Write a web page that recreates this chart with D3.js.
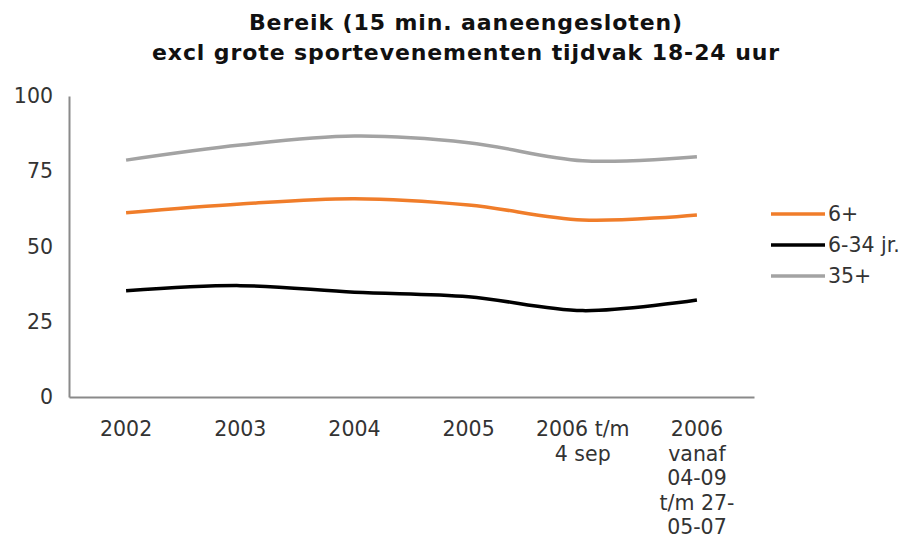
<!DOCTYPE html>
<html><head><meta charset="utf-8">
<script src="https://cdn.jsdelivr.net/npm/d3@7"></script>
<style>body{margin:0;background:#fff}svg{display:block}text{font-family:"DejaVu Sans",Verdana,sans-serif}</style>
</head><body>
<svg id="chart" width="918" height="548"></svg>
<script>
const categories = [["2002"],["2003"],["2004"],["2005"],["2006 t/m","4 sep"],["2006","vanaf","04-09","t/m 27-","05-07"]];
const seriesNames = ["6+","6-34 jr.","35+"];
const values6plus = [61.2, 64.1, 65.9, 63.8, 58.8, 60.5];
const values634 = [35.3, 37.0, 34.8, 33.3, 28.7, 32.2];
const values35plus = [78.7, 83.7, 86.7, 84.5, 78.5, 79.8];
const yTicks = [0, 25, 50, 75, 100];
const titleLines = ["Bereik (15 min. aaneengesloten)", "excl grote sportevenementen tijdvak 18-24 uur"];
const colors = ["#f07d2a", "#000000", "#a3a3a3"];

(function () {
const svg = d3.select("#chart");
const mLeft = 69, mRight = 754, mTop = 96, mBottom = 397;
const fs = 20.5;
const x = d3.scaleBand().domain(d3.range(categories.length)).range([mLeft, mRight]);
const y = d3.scaleLinear().domain([0, 100]).range([mBottom, mTop]);

// title
svg.append("g").selectAll("text").data(titleLines).join("text")
  .attr("x", 466).attr("y", (d, i) => 30 + i * 29.5)
  .attr("text-anchor", "middle").attr("font-weight", "bold").attr("font-size", 22)
  .attr("letter-spacing", 0.9)
  .attr("fill", "#111").text(d => d);

// y axis
const yAxis = d3.axisLeft(y).tickValues(yTicks).tickSize(0).tickPadding(16);
const gy = svg.append("g").attr("transform", `translate(${mLeft},0)`).call(yAxis);
gy.select(".domain").attr("stroke", "#8a8a8a").attr("stroke-width", 2);
gy.selectAll("text").attr("font-size", fs).attr("fill", "#333").attr("font-family", "DejaVu Sans");

// x axis
const xAxis = d3.axisBottom(x).tickSize(0).tickFormat(() => "");
const gx = svg.append("g").attr("transform", `translate(0,${mBottom})`).call(xAxis);
gx.select(".domain").attr("stroke", "#8a8a8a").attr("stroke-width", 2);
gx.selectAll(".tick").each(function(d) {
  const t = d3.select(this).append("text").attr("text-anchor", "middle")
    .attr("font-size", fs).attr("fill", "#333").attr("font-family", "DejaVu Sans");
  categories[d].forEach((ln, i) => {
    t.append("tspan").attr("x", 0).attr("y", 39 + i * 24.5).text(ln);
  });
});

// lines
const allSeries = [values6plus, values634, values35plus];
const line = d3.line()
  .x((d, i) => x(i) + x.bandwidth() / 2)
  .y(d => y(d))
  .curve(d3.curveCatmullRom.alpha(0.5));
svg.append("g").selectAll("path").data(allSeries).join("path")
  .attr("d", line).attr("fill", "none")
  .attr("stroke", (d, i) => colors[i]).attr("stroke-width", 3.5);

// legend
const lg = svg.append("g").selectAll("g").data(seriesNames).join("g")
  .attr("transform", (d, i) => `translate(771,${214 + i * 31})`);
lg.append("line").attr("x1", 0).attr("x2", 54).attr("y1", 0).attr("y2", 0)
  .attr("stroke", (d, i) => colors[i]).attr("stroke-width", 3.5);
lg.append("text").attr("x", 57).attr("y", 7).attr("font-size", fs)
  .attr("fill", "#333").text(d => d);
})();
</script>
</body></html>
